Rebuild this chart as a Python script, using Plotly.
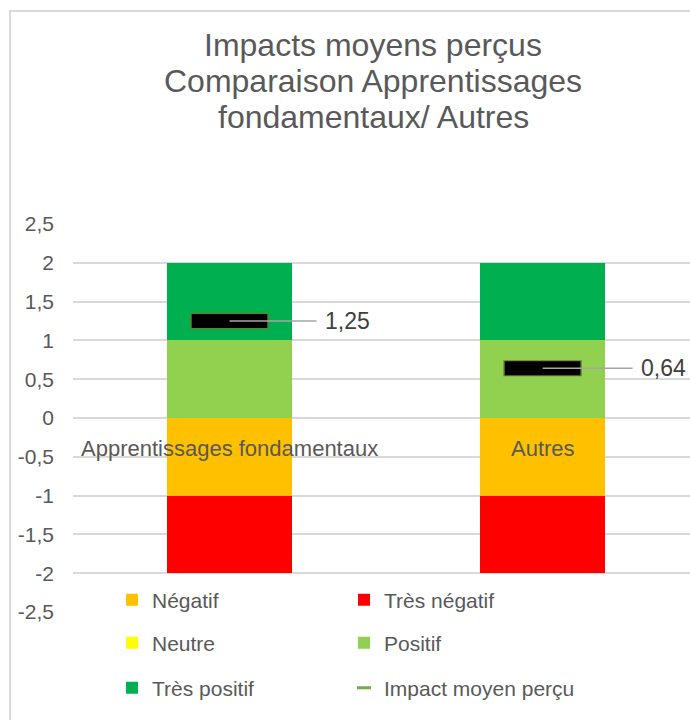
import plotly.graph_objects as go

categories = ["Apprentissages fondamentaux", "Autres"]
tres_negatif = [-1, -1]
negatif = [-1, -1]
neutre = [0, 0]
positif = [1, 1]
tres_positif = [1, 1]
impact_moyen = [1.25, 0.64]
y_ticks = [2.5, 2, 1.5, 1, 0.5, 0, -0.5, -1, -1.5, -2, -2.5]
y_tick_labels = ["2,5", "2", "1,5", "1", "0,5", "0", "-0,5", "-1", "-1,5", "-2", "-2,5"]
title_lines = ["Impacts moyens perçus", "Comparaison Apprentissages", "fondamentaux/ Autres"]

FONT = "Liberation Sans, Arial, sans-serif"
TXT = "#595959"

W, H = 690, 720
L, T = 73, 224
B = H - 612
PW, PH = W - L, H - T - B


def px_x(x_abs):
    return (x_abs - L) / PW


def px_y(y_abs):
    return (H - B - y_abs) / PH


fig = go.Figure()

series = [
    ("Négatif", negatif, "#FFC000", "legend"),
    ("Très négatif", tres_negatif, "#FF0000", "legend"),
    ("Neutre", neutre, "#FFFF00", "legend2"),
    ("Positif", positif, "#92D050", "legend2"),
    ("Très positif", tres_positif, "#00B050", "legend3"),
]
for name, vals, col, lg in series:
    fig.add_trace(go.Bar(x=categories, y=vals, name=name, marker_color=col,
                         marker_line_width=0, width=0.4, legend=lg))

# mean impact markers (olive outline + black fill); line-ew length = 1.4*size
fig.add_trace(go.Scatter(x=categories, y=impact_moyen, mode="markers", showlegend=False,
                         marker=dict(symbol="line-ew", size=56,
                                     line=dict(width=16, color="#6E7A2C"))))
fig.add_trace(go.Scatter(x=categories, y=impact_moyen, mode="markers", showlegend=False,
                         marker=dict(symbol="line-ew", size=54,
                                     line=dict(width=14, color="#000000"))))
# legend entry for the mean impact series
fig.add_trace(go.Scatter(x=[None], y=[None], mode="markers", name="Impact moyen perçu",
                         marker=dict(symbol="line-ew", size=10,
                                     line=dict(width=3, color="#70AD47")),
                         legend="legend3"))

# data labels with leader lines
for cat, v, ax in zip(categories, impact_moyen, [118, 121]):
    fig.add_annotation(x=cat, y=v, text=f"{v:.2f}".replace(".", ","),
                       showarrow=True, arrowhead=0, arrowwidth=1.5, arrowcolor="#A6A6A6",
                       ax=ax, ay=0, borderpad=8, standoff=0,
                       font=dict(family=FONT, size=23, color="#404040"))

# category labels drawn next to the zero line (Excel-style)
for cat in categories:
    fig.add_annotation(x=cat, y=0, yshift=-30, text=cat, showarrow=False,
                       yanchor="middle", font=dict(family=FONT, size=22, color=TXT))

# title, one line per annotation to match the line spacing
for line, yc in zip(title_lines, [45, 81, 117]):
    fig.add_annotation(xref="paper", yref="paper", x=px_x(373), y=px_y(yc),
                       text=line, showarrow=False, xanchor="center", yanchor="middle",
                       font=dict(family=FONT, size=32, color=TXT))

legend_common = dict(orientation="h", xanchor="left", x=px_x(112),
                     yanchor="middle", entrywidth=187, entrywidthmode="pixels",
                     bgcolor="rgba(0,0,0,0)", font=dict(family=FONT, size=21, color=TXT),
                     itemclick=False)

# chart border (left and top edges visible)
fig.add_shape(type="rect", xref="paper", yref="paper",
              x0=px_x(10), x1=px_x(780), y0=px_y(780), y1=px_y(11),
              line=dict(color="#D9D9D9", width=2), layer="below")

fig.update_layout(
    width=W, height=H,
    margin=dict(l=L, r=0, t=T, b=B, pad=0),
    paper_bgcolor="white", plot_bgcolor="white",
    barmode="relative", bargap=0,
    xaxis=dict(range=[-0.5, 1.471], showticklabels=False, showgrid=False,
               zeroline=False, showline=False, fixedrange=True),
    yaxis=dict(range=[-2.5, 2.5], tickvals=y_ticks, ticktext=y_tick_labels,
               showgrid=True, gridcolor="#D9D9D9", gridwidth=1.5, zeroline=False,
               showline=False, ticklabelstandoff=18,
               tickfont=dict(family=FONT, size=21, color=TXT)),
    legend=dict(y=px_y(600), **legend_common),
    legend2=dict(y=px_y(643), **legend_common),
    legend3=dict(y=px_y(688), **legend_common),
    showlegend=True,
)

fig.write_html("out.html", config={"displayModeBar": False},
               post_script="document.body.style.margin='0';document.body.style.overflow='hidden';")
